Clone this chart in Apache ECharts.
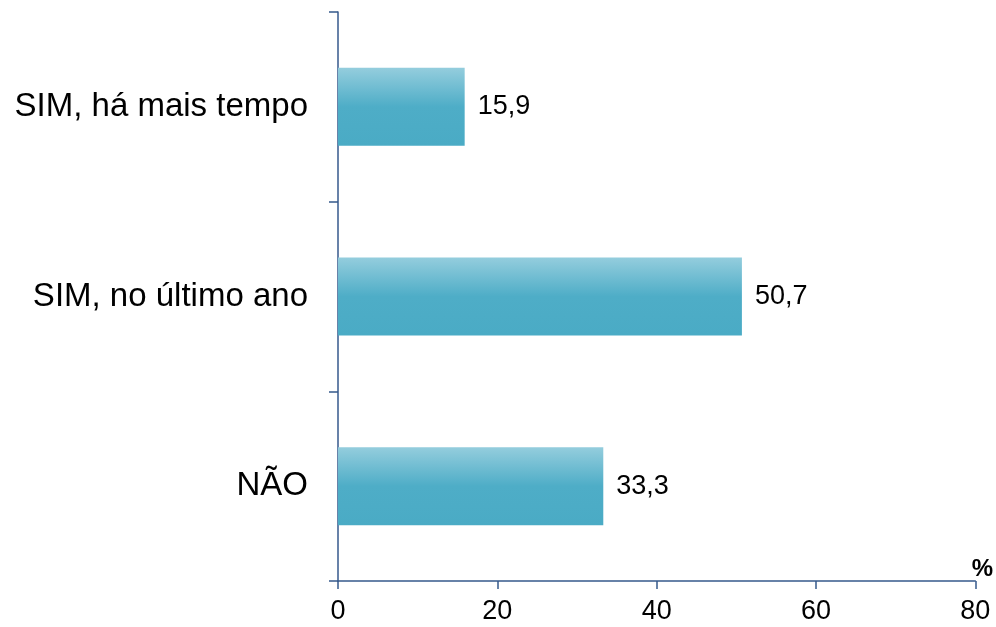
<!DOCTYPE html>
<html>
<head>
<meta charset="utf-8">
<script src="https://cdn.jsdelivr.net/npm/echarts@6/dist/echarts.min.js"></script>
<style>
  html, body { margin: 0; padding: 0; background: #ffffff; }
  #chart { width: 996px; height: 627px; }
</style>
</head>
<body>
<div id="chart"></div>
<script>
// Answer categories, top to bottom
const categories = ['SIM, há mais tempo', 'SIM, no último ano', 'NÃO'];
// Share of respondents (%)
const values = [15.9, 50.7, 33.3];
// Horizontal axis
const axisMin = 0;
const axisMax = 80;
const axisStep = 20;

const axisColor = '#36598c';
const font = '"Liberation Sans", Arial, sans-serif';

const chart = echarts.init(document.getElementById('chart'));
chart.setOption({
  animation: false,
  backgroundColor: '#ffffff',
  grid: { left: 338, right: 20, top: 12, bottom: 46, containLabel: false },
  xAxis: {
    type: 'value',
    min: axisMin,
    max: axisMax,
    interval: axisStep,
    name: '%',
    nameLocation: 'end',
    nameGap: 0,
    nameTextStyle: {
      fontFamily: font, fontSize: 24, fontWeight: 'bold', color: '#000',
      align: 'center', verticalAlign: 'bottom', padding: [0, 0, 0, 14]
    },
    axisLine: { show: true, lineStyle: { color: axisColor, width: 1.5 } },
    axisTick: { show: true, inside: false, length: 8, lineStyle: { color: axisColor, width: 1.5 } },
    axisLabel: { fontFamily: font, fontSize: 27, color: '#000', margin: 17 },
    splitLine: { show: false }
  },
  yAxis: {
    type: 'category',
    data: categories,
    inverse: true,
    axisLine: { show: true, lineStyle: { color: axisColor, width: 1.5 } },
    axisTick: { show: true, inside: false, length: 9, alignWithLabel: false, lineStyle: { color: axisColor, width: 1.5 } },
    axisLabel: { fontFamily: font, fontSize: 33, color: '#000', margin: 30 },
    splitLine: { show: false }
  },
  series: [{
    type: 'bar',
    data: values,
    barWidth: 78,
    itemStyle: {
      color: new echarts.graphic.LinearGradient(0, 0, 0, 1, [
        { offset: 0, color: '#94cddd' },
        { offset: 0.5, color: '#4eadc7' },
        { offset: 1, color: '#4aabc5' }
      ])
    },
    label: {
      show: true,
      position: 'right',
      distance: 13,
      fontFamily: font,
      fontSize: 27,
      color: '#000',
      formatter: p => p.value.toFixed(1).replace('.', ',')
    }
  }]
});
</script>
</body>
</html>
